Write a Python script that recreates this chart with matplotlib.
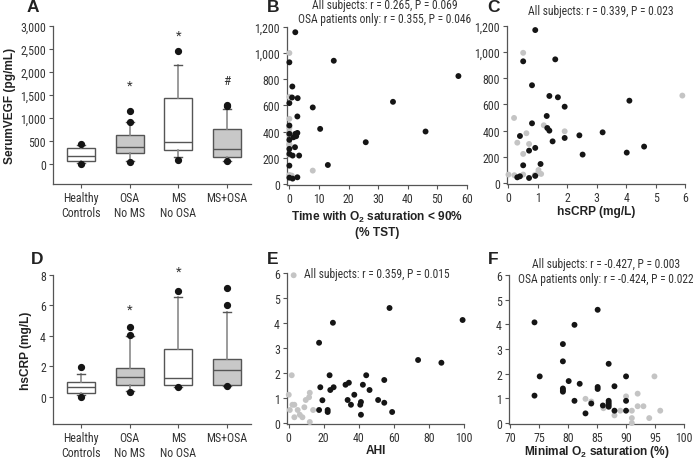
import matplotlib
matplotlib.use('Agg')
import matplotlib.pyplot as plt
from matplotlib import font_manager
from matplotlib.ticker import FuncFormatter

# ---------------- data ----------------
groups = ['Healthy\nControls', 'OSA\nNo MS', 'MS\nNo OSA', 'MS+OSA']
group_fill = ['white', '#c8c8c8', 'white', '#c8c8c8']

# Panel A: serum VEGF box statistics (pg/mL)
vegf_whislo = [15, 60, 150, 70]
vegf_q1 = [58, 232, 297, 152]
vegf_med = [174, 370, 471, 319]
vegf_q3 = [340, 623, 1442, 754]
vegf_whishi = [400, 906, 2145, 1196]
vegf_fliers = [[435, 0], [920, 1160, 43], [2457, 72], [1250, 1290, 50]]
vegf_marks = ['', '*', '*', '#']
vegf_mark_y = [None, 1717, 2804, 1812]

# Panel D: hsCRP box statistics (mg/L)
crp_whislo = [0.1, 0.35, 0.65, 0.72]
crp_q1 = [0.26, 0.74, 0.77, 0.79]
crp_med = [0.61, 1.31, 1.22, 1.75]
crp_q3 = [0.96, 1.88, 3.13, 2.47]
crp_whishi = [1.49, 4.02, 6.58, 5.57]
crp_fliers = [[1.92, 0.0], [4.07, 4.61, 0.31], [6.93, 0.61], [6.03, 7.13, 0.70]]
crp_marks = ['', '*', '*', '']
crp_mark_y = [None, 5.73, 8.26, None]

# Panel B: time with O2 sat < 90% (% TST) vs VEGF
b_osa_x = [2.0, 15.0, 57.1, 35.0, 46.0, 7.9, 10.4, 25.8, 13.0, 0.0, 1.0, 0.9, 2.8, 0.0,
           2.7, 0.0, 0.0, 2.0, 2.7, 0.0, 1.4, 2.3, 0.0, 1.9, 0.0, 1.1, 3.3, 0.0, 0.0, 1.1, 2.7]
b_osa_y = [1160, 942, 825, 628, 401, 585, 421, 319, 145, 930, 745, 661, 656, 618,
           516, 447, 383, 383, 390, 337, 357, 365, 268, 281, 230, 217, 217, 140, 48, 41, 51]
b_ctl_x = [0.0, 0.0, 0.0, 0.0, 0.0, 0.0, 7.9, 0.0, 0.8, 0.0, 0.0, 0.0, 0.0, 0.3]
b_ctl_y = [1001, 666, 498, 429, 395, 305, 102, 69, 64, 440, 375, 300, 222, 60]

# Panel C: hsCRP vs VEGF
c_osa_x = [0.91, 1.59, 0.5, 0.8, 1.39, 1.68, 4.11, 1.91, 1.30, 0.8, 1.32, 1.39, 0.39, 2.41,
           3.2, 1.91, 1.5, 0.91, 4.61, 0.7, 4.02, 2.52, 1.09, 0.5, 0.91, 0.3, 0.39, 0.7]
c_osa_y = [1169, 945, 930, 747, 665, 655, 629, 583, 512, 456, 420, 400, 359, 364,
           387, 344, 318, 268, 278, 247, 232, 217, 145, 135, 54, 43, 51, 38]
c_ctl_x = [0.5, 5.91, 0.19, 1.2, 0.61, 0.3, 1.91, 0.7, 0.5, 0.0, 0.2, 0.5, 1.0, 1.02, 1.11, 0.89]
c_ctl_y = [995, 668, 497, 441, 380, 308, 395, 298, 222, 64, 59, 64, 74, 99, 69, 60]

# Panel E: AHI vs hsCRP
e_osa_x = [17.3, 17.3, 18.0, 19.2, 22.2, 22.2, 23.3, 23.7, 25.2, 25.6, 32.4, 34.3, 33.6, 35.5,
           37.4, 40.8, 41.2, 41.2, 42.3, 44.2, 46.1, 51.0, 54.5, 54.5, 57.5, 59.0, 73.8, 87.1, 99.2]
e_osa_y = [0.52, 3.21, 1.43, 0.91, 0.52, 0.44, 1.91, 1.32, 4.01, 1.43, 1.53, 1.61, 0.92, 0.73,
           1.13, 0.73, 0.84, 0.33, 1.53, 1.91, 1.32, 0.92, 1.72, 0.81, 4.60, 0.44, 2.52, 2.41, 4.12]
e_ctl_x = [2.8, 1.7, 0.0, 0.6, 2.1, 3.2, 3.2, 5.1, 6.3, 7.8, 8.9, 9.7, 11.6, 12.0, 12.0, 13.9]
e_ctl_y = [5.91, 1.91, 1.13, 0.52, 0.73, 0.73, 0.23, 0.52, 0.33, 0.23, 0.63, 0.92, 1.03, 1.21, 0.04, 0.52]

# Panel F: minimal O2 saturation vs hsCRP
f_osa_x = [74.2, 74.2, 75.1, 79.1, 79.1, 79.1, 79.1, 79.1, 80.1, 81.1, 81.1, 82.0, 83.0, 84.0,
           85.1, 85.1, 85.1, 86.0, 87.0, 87.0, 87.0, 87.0, 87.0, 88.0, 88.0, 90.0, 90.0, 90.0]
f_osa_y = [4.08, 1.11, 1.89, 3.20, 2.50, 1.40, 1.33, 1.27, 1.70, 3.98, 0.90, 1.59, 0.39, 0.79,
           4.59, 1.46, 1.38, 0.71, 2.40, 0.90, 0.82, 0.74, 0.66, 0.50, 1.49, 1.89, 0.90, 0.50]
f_ctl_x = [83.0, 84.0, 86.1, 88.0, 89.0, 90.0, 91.0, 91.0, 91.0, 92.0, 92.0, 93.0, 94.0, 94.9, 95.9]
f_ctl_y = [0.98, 0.87, 0.60, 0.31, 0.50, 1.08, 0.50, 0.20, 0.00, 1.19, 0.68, 0.68, 0.20, 1.89, 0.50]

# ---------------- fonts ----------------
def _w(f):
    try:
        return int(f.weight)
    except (TypeError, ValueError):
        return {'bold': 700, 'normal': 400, 'regular': 400}.get(str(f.weight), 400)

def pick_narrow():
    entries = font_manager.fontManager.ttflist
    names = {f.name for f in entries}
    for nm in ['Liberation Sans Narrow', 'Roboto Condensed', 'Open Sans Condensed',
               'Noto Sans Condensed', 'DejaVu Sans Condensed']:
        if nm in names:
            return nm, 'normal', True
    for f in entries:
        st = str(f.stretch)
        if f.name in ('DejaVu Sans', 'Noto Sans', 'Open Sans', 'Roboto') and \
                (st in ('condensed', 'semi-condensed') or st in ('300', '400')) and \
                f.style == 'normal' and _w(f) == 400:
            return f.name, st, True
    return 'Liberation Sans', 'normal', False

NARROW_NAME, NARROW_STRETCH, HAVE_NARROW = pick_narrow()
HAVE_NARROW_BOLD = HAVE_NARROW and any(
    f.name == NARROW_NAME and str(f.stretch) == NARROW_STRETCH and _w(f) >= 600
    and f.style == 'normal' for f in font_manager.fontManager.ttflist)

NARROW = [NARROW_NAME, 'DejaVu Sans']
if HAVE_NARROW_BOLD:
    BOLD = NARROW
    BOLD_STRETCH = NARROW_STRETCH
    LAB_FS = 11
    bf_pat = f'{NARROW_NAME}:bold'
else:
    BOLD = ['Liberation Sans', 'DejaVu Sans']
    BOLD_STRETCH = 'normal'
    LAB_FS = 8.6
    bf_pat = 'Liberation Sans:bold'
plt.rcParams['mathtext.fontset'] = 'custom'
plt.rcParams['mathtext.rm'] = bf_pat.split(':')[0]
plt.rcParams['mathtext.bf'] = bf_pat

SPINE = '#555555'
TXT = '#333333'
BLACK = '#151515'
GRAY = '#c4c4c4'
TICK_FS = 8.6 if HAVE_NARROW else 7
ANN_FS = 8.3 if HAVE_NARROW else 6.8
NKW = dict(family=NARROW, stretch=NARROW_STRETCH)

fig = plt.figure(figsize=(6.93, 4.64), dpi=100)

def px_axes(l, t, r, b):
    W, H = 693, 464
    return fig.add_axes([l / W, 1 - b / H, (r - l) / W, (b - t) / H])

def style(ax):
    for s in ['top', 'right']:
        ax.spines[s].set_visible(False)
    for s in ['left', 'bottom']:
        ax.spines[s].set_color(SPINE)
        ax.spines[s].set_linewidth(0.9)
    ax.tick_params(colors=SPINE, length=3, width=0.8, labelcolor=TXT, labelsize=TICK_FS, pad=2)
    for lab in ax.get_xticklabels() + ax.get_yticklabels():
        lab.set_family(NARROW)
        lab.set_stretch(NARROW_STRETCH)

comma = FuncFormatter(lambda v, p: f'{int(v):,}')

def box_panel(ax, whislo, q1, med, q3, whishi, fliers, marks, mark_y):
    stats = []
    for i in range(len(groups)):
        stats.append(dict(whislo=whislo[i], q1=q1[i], med=med[i], q3=q3[i],
                          whishi=whishi[i], fliers=fliers[i]))
    pos = list(range(1, len(groups) + 1))
    bp = ax.bxp(stats, positions=pos, widths=0.58, patch_artist=True,
                showfliers=True, capwidths=0.16,
                boxprops=dict(edgecolor=SPINE, linewidth=1.0),
                medianprops=dict(color=SPINE, linewidth=1.0),
                whiskerprops=dict(color='#8a8a8a', linewidth=1.2),
                capprops=dict(color=SPINE, linewidth=1.0),
                flierprops=dict(marker='o', markerfacecolor=BLACK, markeredgecolor=BLACK,
                                markersize=4.2, linestyle='none'))
    for patch, fc in zip(bp['boxes'], group_fill):
        patch.set_facecolor(fc)
    for i, (m, y) in enumerate(zip(marks, mark_y)):
        if m:
            ax.text(pos[i], y, m, ha='center', va='center', fontsize=9.5, color=TXT, **NKW)
    ax.set_xticks(pos)
    ax.set_xticklabels(groups)
    ax.set_xlim(0.42, 4.5)

def scatter(ax, cx, cy, ox, oy):
    ax.scatter(cx, cy, s=18, color=GRAY, edgecolors='none', zorder=3, clip_on=False)
    ax.scatter(ox, oy, s=18, color=BLACK, edgecolors='none', zorder=4, clip_on=False)

LABKW = dict(fontsize=LAB_FS, fontweight='bold', family=BOLD, stretch=BOLD_STRETCH,
             color='#222222')

# ---- Panel A ----
axA = px_axes(53, 27, 251, 185)
box_panel(axA, vegf_whislo, vegf_q1, vegf_med, vegf_q3, vegf_whishi, vegf_fliers,
          vegf_marks, vegf_mark_y)
axA.set_ylim(-440, 3000)
axA.set_yticks([0, 500, 1000, 1500, 2000, 2500, 3000])
axA.yaxis.set_major_formatter(comma)
axA.set_ylabel('SerumVEGF (pg/mL)', labelpad=3, **LABKW)
style(axA)

# ---- Panel D ----
axD = px_axes(53, 276, 251, 425)
box_panel(axD, crp_whislo, crp_q1, crp_med, crp_q3, crp_whishi, crp_fliers,
          crp_marks, crp_mark_y)
axD.set_ylim(-1.8, 8)
axD.set_yticks([0, 2, 4, 6, 8])
axD.set_ylabel('hsCRP (mg/L)', labelpad=6, **LABKW)
style(axD)

# ---- Panel B ----
axB = px_axes(287, 28, 467, 186)
scatter(axB, b_ctl_x, b_ctl_y, b_osa_x, b_osa_y)
axB.set_xlim(-0.8, 60)
axB.set_ylim(-8, 1200)
axB.set_xticks([0, 10, 20, 30, 40, 50, 60])
axB.set_yticks([0, 200, 400, 600, 800, 1000, 1200])
axB.yaxis.set_major_formatter(comma)
axB.set_xlabel('Time with O$_\\mathbf{2}$ saturation < 90%\n(% TST)', labelpad=3,
               linespacing=1.15, **LABKW)
style(axB)

# ---- Panel C ----
axC = px_axes(507, 27, 685, 185)
scatter(axC, c_ctl_x, c_ctl_y, c_osa_x, c_osa_y)
axC.set_xlim(-0.05, 6)
axC.set_ylim(-8, 1200)
axC.set_xticks([0, 1, 2, 3, 4, 5, 6])
axC.set_yticks([0, 200, 400, 600, 800, 1000, 1200])
axC.yaxis.set_major_formatter(comma)
axC.set_xlabel('hsCRP (mg/L)', labelpad=1, **LABKW)
style(axC)

# ---- Panel E ----
axE = px_axes(287, 274, 464, 425)
scatter(axE, e_ctl_x, e_ctl_y, e_osa_x, e_osa_y)
axE.set_xlim(-1, 100)
axE.set_ylim(-0.04, 6)
axE.set_xticks([0, 20, 40, 60, 80, 100])
axE.set_yticks([0, 1, 2, 3, 4, 5, 6])
axE.set_xlabel('AHI', labelpad=0, **LABKW)
style(axE)

# ---- Panel F ----
axF = px_axes(509, 276, 684, 425)
scatter(axF, f_ctl_x, f_ctl_y, f_osa_x, f_osa_y)
axF.set_xlim(69.8, 100)
axF.set_ylim(-0.04, 6)
axF.set_xticks([70, 75, 80, 85, 90, 95, 100])
axF.set_yticks([0, 1, 2, 3, 4, 5, 6])
axF.set_xlabel('Minimal O$_\\mathbf{2}$ saturation (%)', labelpad=-1, **LABKW)
style(axF)

# ---- panel letters and annotations ----
def ftext(x, y, s, **kw):
    fig.text(x / 693, 1 - y / 464, s, **kw)

for (x, y, s) in [(33, 8, 'A'), (273, 8, 'B'), (493, 8, 'C'),
                  (37, 259, 'D'), (273, 259, 'E'), (493, 259, 'F')]:
    ftext(x, y, s, fontsize=12.5, fontweight='bold', family=BOLD, stretch=BOLD_STRETCH,
          color='#222222', ha='center', va='center')

ann = dict(fontsize=ANN_FS, color=TXT, ha='center', va='center', **NKW)
ftext(385, 6, 'All subjects: r = 0.265, P = 0.069', **ann)
ftext(385, 19, 'OSA patients only: r = 0.355, P = 0.046', **ann)
ftext(601, 12, 'All subjects: r = 0.339, P = 0.023', **ann)
ftext(377, 275, 'All subjects: r = 0.359, P = 0.015', **ann)
ftext(606, 265, 'All subjects: r = -0.427, P = 0.003', **ann)
ftext(606, 279, 'OSA patients only: r = -0.424, P = 0.022', **ann)

fig.savefig('out.png', dpi=100)
